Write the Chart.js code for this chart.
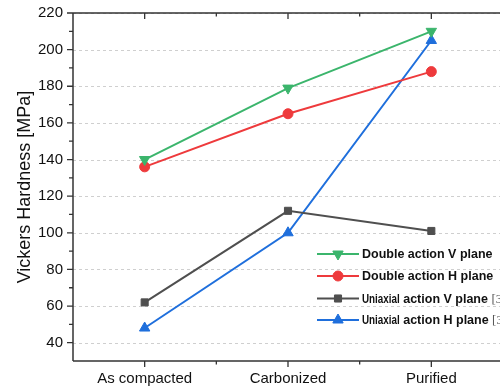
<!DOCTYPE html>
<html>
<head>
<meta charset="utf-8">
<script src="https://cdn.jsdelivr.net/npm/chart.js@4/dist/chart.umd.min.js"></script>
<style>
html,body{margin:0;padding:0;background:#fff;overflow:hidden;}
#wrap{width:510px;height:387px;position:relative;}
</style>
</head>
<body>
<div id="wrap"><canvas id="c" width="510" height="387"></canvas></div>
<script>
const categories = ['As compacted', 'Carbonized', 'Purified'];
const doubleV = [140, 179, 210];
const doubleH = [136, 165, 188];
const uniaxialV = [62, 112, 101];
const uniaxialH = [48, 100, 205];
const yTicks = [40, 60, 80, 100, 120, 140, 160, 180, 200, 220];
const yMinorTicks = [50, 70, 90, 110, 130, 150, 170, 190, 210];
const yTitle = 'Vickers Hardness [MPa]';
const BOLD = 'bold 12.5px "Liberation Sans", Arial, sans-serif';
const NARROW = 'bold 12px "Liberation Sans", Arial, sans-serif';
const SERIF = '13px "Liberation Serif", "Times New Roman", serif';
const legendItems = [
  {parts: [{t: 'Double action V plane', f: BOLD, c: '#111'}]},
  {parts: [{t: 'Double action H plane', f: BOLD, c: '#111'}]},
  {parts: [{t: 'Uniaxial', f: NARROW, c: '#111', sx: 0.82},
           {t: ' action V plane ', f: BOLD, c: '#111'},
           {t: '[3]', f: SERIF, c: '#555'}]},
  {parts: [{t: 'Uniaxial', f: NARROW, c: '#111', sx: 0.82},
           {t: ' action H plane ', f: BOLD, c: '#111'},
           {t: '[3]', f: SERIF, c: '#555'}]}
];

const GREEN = '#3BB56C', RED = '#EE3A3C', GRAY = '#4F4F4F', BLUE = '#1F6FDC';
const AXIS = '#333333';

const axesPlugin = {
  id: 'axesPlugin',
  beforeDatasetsDraw(chart) {
    const {ctx, chartArea: a, scales: {y}} = chart;
    ctx.save();
    ctx.strokeStyle = '#CFCFCF';
    ctx.lineWidth = 1;
    ctx.setLineDash([3, 3]);
    yTicks.forEach(v => {
      const py = Math.round(y.getPixelForValue(v)) + 0.5;
      ctx.beginPath(); ctx.moveTo(a.left, py); ctx.lineTo(a.right, py); ctx.stroke();
    });
    ctx.restore();
  },
  afterDatasetsDraw(chart) {
    const {ctx, chartArea: a, scales: {x, y}} = chart;
    ctx.save();
    ctx.strokeStyle = AXIS;
    ctx.lineWidth = 1.5;
    ctx.beginPath();
    ctx.moveTo(a.left, a.top); ctx.lineTo(a.right, a.top);
    ctx.moveTo(a.left, a.top); ctx.lineTo(a.left, a.bottom);
    ctx.moveTo(a.left, a.bottom); ctx.lineTo(a.right, a.bottom);
    ctx.stroke();
    ctx.lineWidth = 1.3;
    ctx.beginPath();
    yTicks.forEach(v => { const py = y.getPixelForValue(v); ctx.moveTo(a.left, py); ctx.lineTo(a.left - 6, py); });
    yMinorTicks.forEach(v => { const py = y.getPixelForValue(v); ctx.moveTo(a.left, py); ctx.lineTo(a.left - 4, py); });
    categories.forEach((c, i) => {
      const px = x.getPixelForValue(i);
      ctx.moveTo(px, a.top); ctx.lineTo(px, a.top + 6);
      ctx.moveTo(px, a.bottom); ctx.lineTo(px, a.bottom + 6);
    });
    for (let i = 0; i < categories.length - 1; i++) {
      const px = (x.getPixelForValue(i) + x.getPixelForValue(i + 1)) / 2;
      ctx.moveTo(px, a.top); ctx.lineTo(px, a.top + 3.5);
      ctx.moveTo(px, a.bottom); ctx.lineTo(px, a.bottom + 3.5);
    }
    ctx.stroke();
    ctx.restore();
  },
  afterDraw(chart) {
    const {ctx} = chart;
    ctx.save();
    const x0 = 317, x1 = 359, tx = 362;
    const rows = [254, 276, 298.5, 320];
    chart.data.datasets.forEach((ds, i) => {
      const yy = rows[i];
      ctx.strokeStyle = ds.borderColor;
      ctx.lineWidth = 2;
      ctx.setLineDash([]);
      ctx.beginPath(); ctx.moveTo(x0, yy); ctx.lineTo(x1, yy); ctx.stroke();
      ctx.fillStyle = ds.backgroundColor;
      ctx.strokeStyle = ds.borderColor;
      ctx.lineWidth = 1;
      Chart.helpers.drawPoint(ctx, {pointStyle: ds.pointStyle, rotation: ds.pointRotation || 0, radius: ds.pointRadius, borderWidth: 1}, (x0 + x1) / 2, yy);
      let cx = tx;
      ctx.textBaseline = 'middle';
      ctx.textAlign = 'left';
      legendItems[i].parts.forEach(p => {
        ctx.font = p.f; ctx.fillStyle = p.c;
        const sx = p.sx || 1;
        ctx.save();
        ctx.translate(cx, yy + 1);
        ctx.scale(sx, 1);
        ctx.fillText(p.t, 0, 0);
        ctx.restore();
        cx += ctx.measureText(p.t).width * sx;
      });
    });
    ctx.restore();
  }
};

const mk = (label, data, color, style, rot, r) => ({
  label, data, borderColor: color, backgroundColor: color,
  borderWidth: 2, pointStyle: style, pointRotation: rot, pointRadius: r, pointHoverRadius: r,
  pointBorderWidth: 1, tension: 0, clip: false
});

new Chart(document.getElementById('c'), {
  type: 'line',
  data: {
    labels: categories,
    datasets: [
      mk('Double action V plane', doubleV, GREEN, 'triangle', 180, 6),
      mk('Double action H plane', doubleH, RED, 'circle', 0, 5),
      mk('Uniaxial action V plane [3]', uniaxialV, GRAY, 'rect', 0, 5),
      mk('Uniaxial action H plane [3]', uniaxialH, BLUE, 'triangle', 0, 6)
    ]
  },
  options: {
    responsive: false,
    animation: false,
    events: [],
    layout: {padding: {top: 13, right: 4, left: 0, bottom: 0}},
    plugins: {legend: {display: false}, tooltip: {enabled: false}},
    scales: {
      x: {
        type: 'category',
        offset: true,
        grid: {display: false, drawTicks: false},
        border: {display: false},
        ticks: {color: '#111', padding: 9, font: {family: '"Liberation Sans", Arial, sans-serif', size: 15}, maxRotation: 0, autoSkip: false},
        afterFit(s) { s.height = 26; s.paddingLeft = 0; s.paddingRight = 0; }
      },
      y: {
        min: 30, max: 220,
        grid: {display: false, drawTicks: false},
        border: {display: false},
        afterBuildTicks(s) { s.ticks = yTicks.map(v => ({value: v})); },
        ticks: {color: '#111', padding: 10, font: {family: '"Liberation Sans", Arial, sans-serif', size: 15}},
        title: {display: true, text: yTitle, color: '#111', padding: {top: 14, bottom: 0}, font: {family: '"Liberation Sans", Arial, sans-serif', size: 18}},
        afterFit(s) { s.width = 73; s.paddingTop = 0; s.paddingBottom = 0; }
      }
    }
  },
  plugins: [axesPlugin]
});
</script>
</body>
</html>
